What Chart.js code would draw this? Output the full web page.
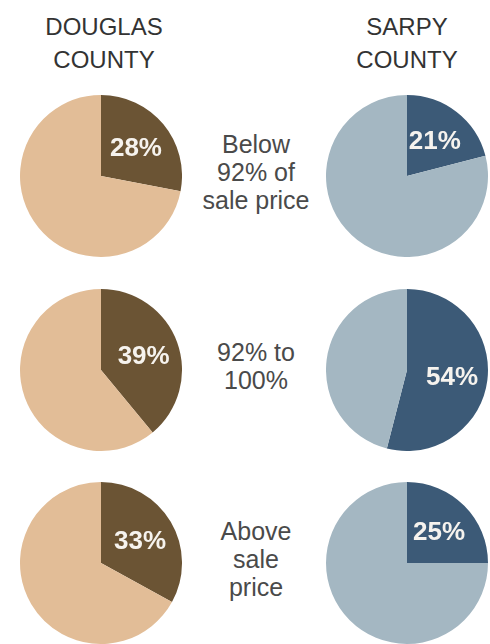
<!DOCTYPE html>
<html>
<head>
<meta charset="utf-8">
<script src="https://cdn.jsdelivr.net/npm/chart.js@4/dist/chart.umd.min.js"></script>
<style>
  html, body { margin:0; padding:0; background:#fff; }
  #page { position:relative; width:490px; height:644px; overflow:hidden; font-family:"Liberation Sans", Arial, sans-serif; }
  .county { position:absolute; top:10px; width:160px; margin-left:-80px; text-align:center; font-size:24px; line-height:33px; color:#333; }
  .bracket { position:absolute; width:150px; margin-left:-75px; text-align:center; font-size:25px; line-height:28px; color:#4a4a4a; }
  canvas { position:absolute; }
</style>
</head>
<body>
<div id="page"></div>

<script>
// =======================
// DATA
// =======================
const counties = ["DOUGLAS", "SARPY"];
const brackets = [
  ["Below", "92% of", "sale price"],
  ["92% to", "100%"],
  ["Above", "sale", "price"]
];
const douglasShares = [28, 39, 33];
const sarpyShares = [21, 54, 25];

// =======================
// LAYOUT & STYLE
// =======================
const colX = [101, 407];     // pie centres per county
const rowY = [176, 370, 563]; // pie centres per bracket
const middleX = 256;
const pieSize = 162;
const palette = [
  {dark:"#6b5434", light:"#e2bd97"},
  {dark:"#3c5a77", light:"#a4b7c2"}
];

const page = document.getElementById("page");

// headers
counties.forEach((name,i)=>{
  const d = document.createElement("div");
  d.className = "county";
  d.style.left = (i === 0 ? colX[i] + 3 : colX[i]) + "px";
  d.innerHTML = name + "<br>COUNTY";
  page.appendChild(d);
});

// bracket labels between the pies
brackets.forEach((lines,r)=>{
  const d = document.createElement("div");
  d.className = "bracket";
  d.style.left = middleX + "px";
  d.style.top = (rowY[r] - lines.length * 14 - 4) + "px";
  d.innerHTML = lines.join("<br>");
  page.appendChild(d);
});

// =======================
// SLICE LABEL PLUGIN
// =======================
const sliceLabel = {
  id: "sliceLabel",
  afterDatasetsDraw(chart){
    const arc = chart.getDatasetMeta(0).data[0];
    const {x, y, startAngle, endAngle, outerRadius} = arc.getProps(["x","y","startAngle","endAngle","outerRadius"], true);
    const mid = (startAngle + endAngle) / 2;
    const ctx = chart.ctx;
    ctx.save();
    ctx.font = "bold 26px 'Liberation Sans', Arial, sans-serif";
    ctx.fillStyle = "#f6f3ee";
    ctx.textAlign = "center";
    ctx.textBaseline = "middle";
    ctx.fillText(chart.data.datasets[0].data[0] + "%", x + Math.cos(mid) * outerRadius * 0.56, y + Math.sin(mid) * outerRadius * 0.56 + 2);
    ctx.restore();
  }
};

// =======================
// PIES
// =======================
function makePie(share, col, row){
  const c = document.createElement("canvas");
  c.width = pieSize;
  c.height = pieSize;
  c.style.left = (colX[col] - pieSize / 2) + "px";
  c.style.top = (rowY[row] - pieSize / 2) + "px";
  page.appendChild(c);

  new Chart(c, {
    type: "pie",
    data: {
      labels: ["share", "rest"],
      datasets: [{
        data: [share, 100 - share],
        backgroundColor: [palette[col].dark, palette[col].light],
        borderWidth: 0
      }]
    },
    options: {
      responsive: false,
      animation: false,
      devicePixelRatio: 1,
      layout: { padding: 0 },
      plugins: { legend: { display:false }, tooltip: { enabled:false } }
    },
    plugins: [sliceLabel]
  });
}

douglasShares.forEach((v,r)=>makePie(v, 0, r));
sarpyShares.forEach((v,r)=>makePie(v, 1, r));
</script>
</body>
</html>
